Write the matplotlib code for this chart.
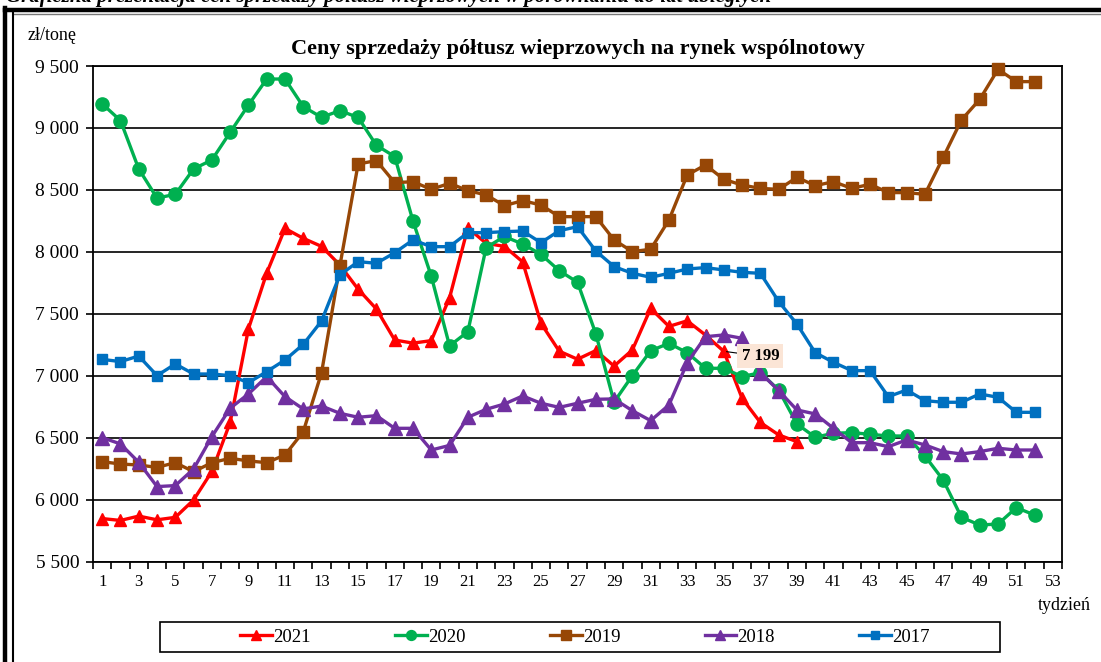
import matplotlib
matplotlib.use("Agg")
import matplotlib.pyplot as plt
from matplotlib.lines import Line2D
from matplotlib.patches import Rectangle
from matplotlib.ticker import FuncFormatter, MultipleLocator, FixedLocator

plt.rcParams['font.family'] = ['Liberation Serif', 'DejaVu Serif']

weeks = list(range(1, 54))

p2021 = [5850, 5835, 5870, 5840, 5860, 6000, 6230, 6625, 7380, 7830, 8190, 8110, 8045,
         7895, 7700, 7540, 7290, 7265, 7285, 7630, 8195, 8070, 8045, 7920, 7425, 7200,
         7135, 7205, 7080, 7210, 7545, 7400, 7445, 7330, 7199, 6820, 6625, 6525, 6470]
p2020 = [9195, 9060, 8670, 8435, 8465, 8670, 8742, 8965, 9185, 9395, 9395, 9172, 9086,
         9140, 9085, 8860, 8770, 8250, 7805, 7243, 7357, 8035, 8125, 8064, 7981, 7849,
         7756, 7340, 6790, 7003, 7204, 7263, 7188, 7062, 7062, 6995, 7027, 6887, 6613,
         6506, 6538, 6543, 6530, 6516, 6516, 6355, 6161, 5860, 5798, 5806, 5938, 5879]
p2019 = [6309, 6290, 6282, 6263, 6301, 6228, 6301, 6336, 6315, 6301, 6363, 6551, 7027,
         7887, 8710, 8737, 8559, 8567, 8505, 8554, 8495, 8460, 8374, 8414, 8379, 8285,
         8285, 8285, 8097, 8003, 8022, 8258, 8621, 8702, 8586, 8540, 8513, 8505, 8602,
         8535, 8567, 8513, 8546, 8479, 8479, 8465, 8763, 9065, 9231, 9473, 9374, 9374]
p2018 = [6503, 6452, 6304, 6108, 6116, 6250, 6511, 6740, 6855, 6995, 6833, 6734, 6758,
         6699, 6667, 6680, 6578, 6578, 6403, 6440, 6667, 6731, 6774, 6839, 6780, 6747,
         6780, 6812, 6815, 6720, 6640, 6766, 7107, 7317, 7331, 7304, 7027, 6882, 6726,
         6694, 6578, 6462, 6462, 6430, 6484, 6444, 6390, 6371, 6390, 6417, 6403, 6403]
p2017 = [7134, 7116, 7161, 7003, 7097, 7016, 7016, 7003, 6946, 7035, 7129, 7255, 7444,
         7815, 7922, 7909, 7994, 8097, 8043, 8043, 8156, 8156, 8164, 8169, 8075, 8172,
         8204, 8008, 7882, 7828, 7796, 7828, 7863, 7874, 7855, 7836, 7828, 7601, 7419,
         7188, 7110, 7043, 7043, 6833, 6887, 6801, 6788, 6788, 6855, 6828, 6707, 6707]

series = [
    ("2021", p2021, "#FF0000", "^", 9),
    ("2020", p2020, "#00B050", "o", 9.5),
    ("2019", p2019, "#974706", "s", 9),
    ("2018", p2018, "#7030A0", "^", 10.5),
    ("2017", p2017, "#0070C0", "s", 7),
]

fig = plt.figure(figsize=(11.01, 6.62), dpi=100)
ax = fig.add_axes([0.0845, 0.1511, 0.9646 - 0.0845, 0.9003 - 0.1511])

for i, (name, vals, col, mk, ms) in enumerate(series):
    ax.plot(weeks[:len(vals)], vals, color=col, marker=mk, markersize=ms,
            linewidth=2.4, label=name, zorder=3 + i, clip_on=False)

ax.set_xlim(0.5, 53.5)
ax.set_ylim(5500, 9500)
ax.yaxis.set_major_locator(MultipleLocator(500))
ax.yaxis.set_major_formatter(FuncFormatter(lambda v, p: f"{int(v):,}".replace(",", " ")))
ax.xaxis.set_major_locator(FixedLocator(list(range(1, 54, 2))))
ax.xaxis.set_minor_locator(FixedLocator([w + 0.5 for w in range(0, 54)]))
ax.tick_params(axis='x', which='major', length=0, labelsize=12, pad=9)
ax.tick_params(axis='x', which='minor', length=5, width=1.2, direction='out')
ax.tick_params(axis='y', length=5, width=1.2, labelsize=14, pad=5)
ax.grid(axis='y', color='black', linewidth=1.2)
ax.set_axisbelow(True)
for s in ax.spines.values():
    s.set_linewidth(1.3)

ax.set_title("Ceny sprzedaży półtusz wieprzowych na rynek wspólnotowy",
             fontsize=16, fontweight='bold', pad=9)

# data label for the last 2021 point
ax.annotate("7 199", xy=(35, 7199), xytext=(37.0, 7160), fontsize=12,
            fontweight='bold', va='center', ha='center',
            bbox=dict(boxstyle='square,pad=0.25', fc='#FBE5D6', ec='none'),
            arrowprops=dict(arrowstyle='-', color='black', lw=0.8,
                            shrinkA=0, shrinkB=2), zorder=10)

fig.text(28 / 1101, 1 - 36 / 662, "zł/tonę", fontsize=13, va='center', ha='left')
fig.text(1091 / 1101, 1 - 605 / 662, "tydzień", fontsize=13, va='center', ha='right')

leg = ax.legend(loc='center', bbox_to_anchor=(585 / 1101, 1 - 637 / 662),
                bbox_transform=fig.transFigure, ncol=5, frameon=False,
                fontsize=13.5, handlelength=1.7, handletextpad=0.05,
                columnspacing=4.5, markerscale=0.75)
fig.add_artist(Rectangle((160 / 1101, 1 - 652 / 662), 840 / 1101, 30 / 662,
                         transform=fig.transFigure, fill=False,
                         edgecolor='black', linewidth=1.2))

# cut-off heading above the frame
fig.text(0.005, 1.005, "Graficzna prezentacja cen sprzedaży półtusz wieprzowych w porównaniu do lat ubiegłych",
         fontsize=15, fontweight='bold', fontstyle='italic', va='center', ha='left')

# outer frame
def fline(x0, y0, x1, y1, lw, col='black'):
    fig.add_artist(Line2D([x0 / 1101, x1 / 1101], [1 - y0 / 662, 1 - y1 / 662],
                          transform=fig.transFigure, color=col, linewidth=lw))

fline(5, 10, 1101, 10, 3.2)
fline(13, 14, 1101, 14, 1.0, '#777777')
fline(5, 8, 5, 662, 3.2)
fline(13, 13, 13, 662, 1.5)

fig.savefig("out.png", dpi=100)
